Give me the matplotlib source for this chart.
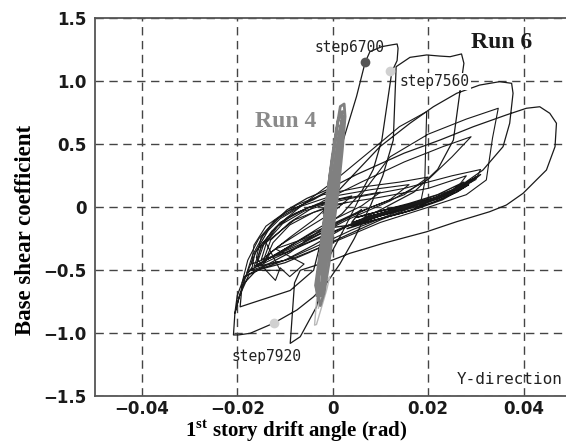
import matplotlib
matplotlib.use("Agg")
import matplotlib.pyplot as plt
import numpy as np

# ---- data (drift angle in rad, base shear coefficient) ----
x_ticks = [-0.04, -0.02, 0, 0.02, 0.04]
x_tick_labels = ["\u22120.04", "\u22120.02", "0", "0.02", "0.04"]
y_ticks = [-1.5, -1.0, -0.5, 0, 0.5, 1.0, 1.5]
y_tick_labels = ["\u22121.5", "\u22121.0", "\u22120.5", "0", "0.5", "1.0", "1.5"]

# Run 6: large cycles (step6700 loop, negative peak, outer loops)
run6_big = [
    (-0.0020, -0.05), (0.0000, 0.12), (0.0022, 0.53), (0.0050, 0.88), (0.0068, 1.15),
    (0.0078, 1.235), (0.0103, 1.275), (0.0125, 1.29), (0.0135, 1.296), (0.0137, 1.262),
    (0.0135, 1.164), (0.0124, 1.076), (0.0103, 0.534), (0.0085, 0.30), (0.0060, 0.12),
    (0.0020, -0.05), (-0.0040, -0.22), (-0.0090, -0.36), (-0.0140, -0.46), (-0.0175, -0.53),
    (-0.0195, -0.70), (-0.0205, -0.842), (-0.0208, -1.013), (-0.0198, -1.013), (-0.0173, -1.00),
    (-0.0124, -0.92), (-0.0075, -0.815), (-0.0040, -0.71), (-0.0013, -0.603), (0.0015, -0.45),
    (0.0045, -0.25), (0.0080, 0.02), (0.0105, 0.25), (0.0127, 0.534), (0.0133, 1.116),
    (0.0162, 1.19), (0.0197, 1.209), (0.0225, 1.20), (0.0246, 1.195), (0.0270, 1.217),
    (0.0275, 1.143), (0.0270, 1.01), (0.0253, 0.534), (0.0220, 0.30), (0.0170, 0.12),
    (0.0100, -0.02), (0.0030, -0.15), (-0.0040, -0.30), (-0.0100, -0.42), (-0.0160, -0.50),
    (-0.0190, -0.62), (-0.0194, -0.79), (-0.0170, -0.76), (-0.0089, -0.66), (-0.0040, -0.50),
    (-0.0020, -0.20), (0.0000, 0.084), (0.0099, 0.481), (0.0162, 0.667), (0.0211, 0.798),
    (0.0260, 0.905), (0.0308, 0.97), (0.0350, 0.997), (0.0375, 0.984), (0.0378, 0.905),
    (0.0371, 0.667), (0.0357, 0.481), (0.0315, 0.296), (0.0260, 0.15), (0.0180, 0.02),
    (0.0100, -0.10), (0.0030, -0.22), (-0.0050, -0.36), (-0.0100, -0.44), (-0.0150, -0.49),
    (-0.0185, -0.55), (-0.0200, -0.70), (-0.0205, -0.84), (-0.0194, -0.683), (-0.0180, -0.524),
    (-0.0159, -0.339), (-0.0131, -0.154), (-0.0096, -0.021), (-0.0054, 0.071), (-0.0013, 0.137),
    (0.0050, 0.26), (0.0150, 0.43), (0.0225, 0.534), (0.0295, 0.64), (0.0364, 0.733),
    (0.0406, 0.786), (0.0434, 0.798), (0.0455, 0.746), (0.0469, 0.667), (0.0466, 0.481),
    (0.0448, 0.296), (0.0427, 0.217), (0.0399, 0.111), (0.0364, 0.018), (0.0329, -0.035),
    (0.0260, -0.114), (0.0197, -0.194), (0.0106, -0.286), (0.0036, -0.365), (0.0000, -0.418),
    (-0.0068, -0.50), (-0.0080, -0.60), (-0.0089, -1.08), (-0.0068, -1.027), (-0.0034, -0.79),
    (-0.0014, -0.44), (0.0020, -0.20),
]

# Run 6: medium cycles forming the fan
run6_fan = [
    (0.0020, -0.20), (0.0060, 0.10), (0.0120, 0.40), (0.0200, 0.58), (0.0280, 0.70),
    (0.0347, 0.786), (0.0335, 0.55), (0.0322, 0.217), (0.0280, 0.10), (0.0200, 0.00),
    (0.0100, -0.12), (0.0000, -0.28), (-0.0080, -0.40), (-0.0140, -0.46), (-0.0170, -0.50),
    (-0.0163, -0.36), (-0.0120, -0.16), (-0.0060, 0.03), (0.0000, 0.20), (0.0080, 0.45),
    (0.0140, 0.64), (0.0197, 0.759), (0.0195, 0.50), (0.0193, 0.20), (0.0185, 0.05),
    (0.0120, -0.06), (0.0040, -0.18), (-0.0040, -0.32), (-0.0100, -0.42), (-0.0160, -0.47),
    (-0.0150, -0.30), (-0.0110, -0.12), (-0.0050, 0.00), (0.0050, 0.08), (0.0150, 0.15),
    (0.0250, 0.25), (0.0310, 0.30), (0.0300, 0.22), (0.0240, 0.10), (0.0150, 0.00),
    (0.0050, -0.12), (-0.0050, -0.28), (-0.0120, -0.40), (-0.0175, -0.50), (-0.0110, -0.50),
    (-0.0140, -0.28), (-0.0080, -0.10), (0.0000, 0.02), (0.0100, 0.08), (0.0200, 0.15),
    (0.0280, 0.25), (0.0260, 0.15), (0.0160, 0.02), (0.0060, -0.10), (-0.0030, -0.24),
    (-0.0100, -0.36), (-0.0145, -0.42), (-0.0130, -0.26), (-0.0090, -0.12), (-0.0020, 0.05),
    (0.0060, 0.20), (0.0150, 0.36), (0.0230, 0.48), (0.0290, 0.56), (0.0250, 0.40),
    (0.0200, 0.22), (0.0120, 0.05), (0.0030, -0.10), (-0.0060, -0.28), (-0.0120, -0.38),
    (-0.0170, -0.45), (-0.0165, -0.30), (-0.0140, -0.15), (-0.0100, -0.04), (-0.0040, 0.06),
    (0.0000, 0.15), (-0.0050, 0.05), (-0.0120, -0.10), (-0.0150, -0.24), (-0.0160, -0.40),
    (-0.0140, -0.50), (-0.0120, -0.58), (-0.0110, -0.48), (-0.0090, -0.55), (-0.0060, -0.45),
    (-0.0120, -0.33), (-0.0060, -0.25), (0.0000, -0.15), (0.0060, -0.02),
]

# Run 6: nested arcs on the negative side
run6_arcs = [
    (-0.0170, -0.48), (-0.0190, -0.60), (-0.0178, -0.42), (-0.0155, -0.25), (-0.0120, -0.10),
    (-0.0075, 0.02), (-0.0020, 0.10), (0.0060, 0.16), (0.0140, 0.20), (0.0200, 0.24),
    (0.0150, 0.10), (0.0080, 0.00), (0.0000, -0.14), (-0.0080, -0.30), (-0.0140, -0.42),
    (-0.0180, -0.52), (-0.0168, -0.38), (-0.0145, -0.22), (-0.0110, -0.09), (-0.0065, 0.01),
    (-0.0010, 0.08), (0.0080, 0.14), (0.0160, 0.18), (0.0120, 0.06), (0.0040, -0.06),
    (-0.0040, -0.20), (-0.0100, -0.33), (-0.0165, -0.47), (-0.0150, -0.32), (-0.0128, -0.19),
    (-0.0095, -0.08), (-0.0050, 0.00), (0.0010, 0.06), (0.0100, 0.12), (0.0060, 0.01),
    (-0.0010, -0.12), (-0.0070, -0.26), (-0.0130, -0.40), (-0.0160, -0.46), (-0.0145, -0.30),
    (-0.0115, -0.15), (-0.0080, -0.05), (-0.0030, 0.03), (0.0040, 0.09), (0.0000, -0.04),
    (-0.0060, -0.18), (-0.0110, -0.30), (-0.0150, -0.42), (-0.0138, -0.27), (-0.0105, -0.13),
    (-0.0060, -0.03), (0.0000, 0.04), (-0.0040, -0.10), (-0.0090, -0.24), (-0.0130, -0.36),
    (-0.0145, -0.45), (-0.0125, -0.28), (-0.0090, -0.14), (-0.0040, -0.04), (0.0030, 0.04),
]

# Run 6: small repeated cycles (dense black band)
run6_band = [
    (0.0060, -0.02), (0.0040, -0.12), (0.0100, -0.06), (0.0160, 0.00), (0.0220, 0.08),
    (0.0270, 0.17), (0.0290, 0.22), (0.0260, 0.15), (0.0200, 0.05), (0.0140, -0.02),
    (0.0080, -0.09), (0.0030, -0.15), (0.0080, -0.07), (0.0150, 0.01), (0.0210, 0.07),
    (0.0260, 0.14), (0.0300, 0.24), (0.0270, 0.16), (0.0210, 0.06), (0.0150, -0.01),
    (0.0090, -0.07), (0.0050, -0.11), (0.0110, -0.04), (0.0170, 0.02), (0.0230, 0.09),
    (0.0280, 0.19), (0.0250, 0.12), (0.0190, 0.04), (0.0120, -0.03), (0.0060, -0.10),
    (0.0120, -0.05), (0.0180, 0.01), (0.0240, 0.10), (0.0265, 0.15), (0.0220, 0.07),
    (0.0160, 0.00), (0.0100, -0.05), (0.0070, -0.08), (0.0130, -0.02), (0.0200, 0.05),
    (0.0250, 0.12), (0.0310, 0.26), (0.0290, 0.20), (0.0230, 0.09), (0.0170, 0.03),
    (0.0110, -0.02), (0.0050, -0.08), (0.0100, -0.03), (0.0160, 0.03), (0.0220, 0.10),
    (0.0275, 0.20), (0.0240, 0.11), (0.0180, 0.03), (0.0120, -0.04), (0.0070, -0.11),
    (0.0030, -0.17), (0.0090, -0.10), (0.0150, -0.04), (0.0210, 0.04), (0.0260, 0.12),
    (0.0285, 0.18), (0.0230, 0.06), (0.0170, -0.02), (0.0110, -0.08), (0.0060, -0.13),
    (0.0000, -0.16), (-0.0060, -0.27),
]

# Run 4: narrow cycles near the origin
run4_dark = [
    (-0.0033, -0.70), (-0.0030, -0.50), (-0.0021, -0.20), (-0.0011, 0.10), (-0.0001, 0.40),
    (0.0008, 0.62), (0.0016, 0.80), (0.0024, 0.82), (0.0026, 0.72), (0.0020, 0.45),
    (0.0012, 0.15), (0.0002, -0.15), (-0.0008, -0.45), (-0.0018, -0.68), (-0.0026, -0.78),
    (-0.0036, -0.62), (-0.0026, -0.35), (-0.0016, -0.05), (-0.0006, 0.25), (0.0004, 0.50),
    (0.0012, 0.70), (0.0020, 0.76), (0.0016, 0.55), (0.0006, 0.25), (-0.0004, -0.05),
    (-0.0014, -0.35), (-0.0022, -0.60), (-0.0030, -0.74), (-0.0028, -0.55), (-0.0018, -0.25),
    (-0.0008, 0.05), (0.0004, 0.35), (0.0014, 0.60), (0.0022, 0.72), (0.0018, 0.50),
    (0.0008, 0.20), (-0.0002, -0.10), (-0.0012, -0.40), (-0.0024, -0.70), (-0.0020, -0.45),
    (-0.0010, -0.15), (0.0000, 0.15), (0.0010, 0.45), (0.0018, 0.66),
]
run4_light = [
    (-0.0010, -0.45), (-0.0028, -0.50), (-0.0034, -0.75), (-0.0038, -0.935), (-0.0034, -0.93),
    (-0.0027, -0.84), (-0.0013, -0.66), (-0.0006, -0.55), (-0.0016, -0.60), (-0.0030, -0.80),
]

# marked steps: (drift, shear, colour)
step_points = [(0.0068, 1.151, "#555555"), (0.0120, 1.082, "#d0d0d0"), (-0.0124, -0.92, "#d0d0d0")]


def draw_path(ax, pts, **kw):
    arr = np.array(pts)
    ax.plot(arr[:, 0], arr[:, 1], **kw)


plt.rcParams["mathtext.fontset"] = "custom"
plt.rcParams["mathtext.rm"] = "Liberation Serif:bold"
plt.rcParams["mathtext.bf"] = "Liberation Serif:bold"

fig = plt.figure(figsize=(5.66, 4.46), dpi=100)
ax = fig.add_axes([0.168, 0.1114, 0.832, 0.8476])

draw_path(ax, run6_band, color="#151515", lw=1.0)
draw_path(ax, run6_arcs, color="#1a1a1a", lw=0.8)
draw_path(ax, run6_fan, color="#1a1a1a", lw=0.8)
draw_path(ax, run6_big, color="#1a1a1a", lw=0.9)
draw_path(ax, run4_light, color="#b8b8b8", lw=1.0)
draw_path(ax, run4_dark, color="#808080", lw=2.0)

for px, py, c in step_points:
    ax.plot(px, py, "o", ms=7, color=c, mec="none", zorder=5)

mono = "DejaVu Sans Mono"
ax.text(0.0035, 1.266, "step6700", fontsize=10.5, family=mono, ha="center", va="center", color="#222222")
ax.text(0.0141, 1.00, "step7560", fontsize=10.5, family=mono, ha="left", va="center", color="#222222",
        bbox=dict(facecolor="white", edgecolor="none", pad=0.5))
ax.text(-0.0138, -1.187, "step7920", fontsize=10.5, family=mono, ha="center", va="center", color="#222222")
ax.text(0.0355, 1.31, "Run 6", fontsize=17, family="Liberation Serif", weight="bold",
        ha="center", va="center", color="#1a1a1a")
ax.text(-0.0098, 0.677, "Run 4", fontsize=17, family="Liberation Serif", weight="bold",
        ha="center", va="center", color="#8a8a8a")
ax.text(0.026, -1.363, "Y-direction", fontsize=11.5, family=mono, ha="left", va="center",
        color="#222222", clip_on=False)

ax.set_xlim(-0.0498, 0.0489)
ax.set_ylim(-1.5, 1.5)
ax.set_xticks(x_ticks)
ax.set_xticklabels(x_tick_labels)
ax.set_yticks(y_ticks)
ax.set_yticklabels(y_tick_labels)
ax.tick_params(axis="y", length=0, pad=6, labelsize=12)
ax.tick_params(axis="x", length=0, pad=3, labelsize=12)
for lab in ax.get_xticklabels() + ax.get_yticklabels():
    lab.set_fontweight("bold")
    lab.set_color("#1a1a1a")

ax.grid(True, linestyle=(0, (6, 4)), color="#444444", lw=1.0)
ax.set_axisbelow(True)
for side in ["left", "bottom", "top"]:
    ax.spines[side].set_color("#555555")
    ax.spines[side].set_linewidth(1.3)
ax.spines["right"].set_visible(False)

ax.set_ylabel("Base shear coefficient", family="Liberation Serif", weight="bold", fontsize=16.5)
ax.yaxis.set_label_coords(-0.125, 0.44)
ax.set_xlabel(r"1$^{\mathrm{st}}$ story drift angle (rad)", family="Liberation Serif",
              weight="bold", fontsize=15)
ax.xaxis.set_label_coords(0.427, -0.057)

fig.savefig("out.png", dpi=100)
